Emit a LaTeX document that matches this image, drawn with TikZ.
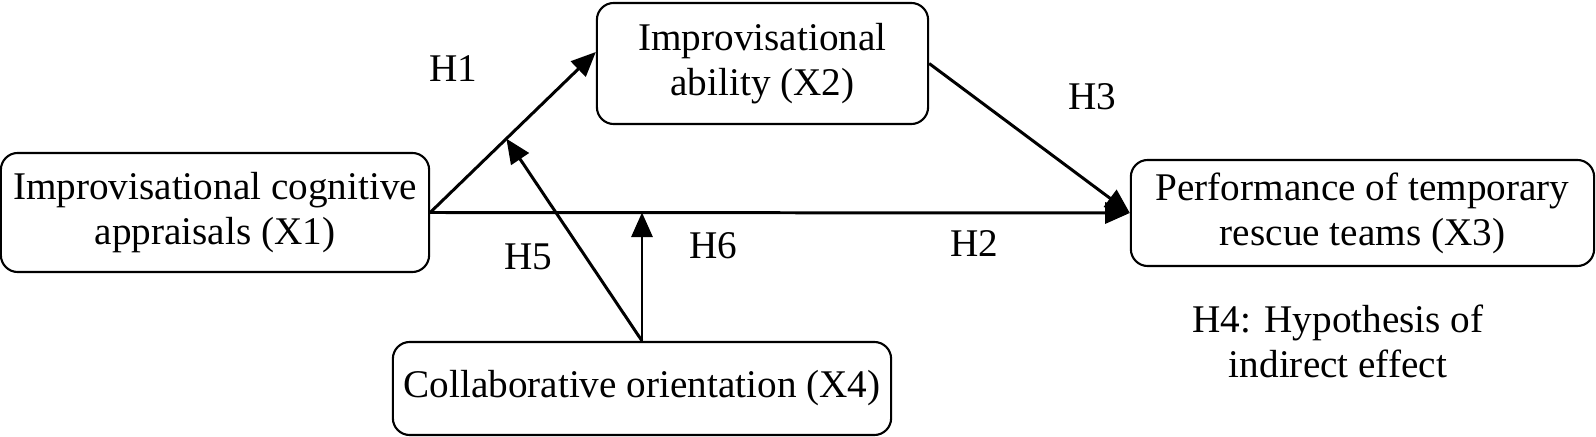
\documentclass[tikz,border=0pt]{standalone}
\usepackage{fontspec}
\setmainfont{Liberation Serif}
\usetikzlibrary{arrows.meta,calc}

\begin{document}
\begin{tikzpicture}[
  x=0.01cm, y=-0.01cm,
  block/.style={rectangle, draw, rounded corners=4.8pt, line width=0.6pt, align=center, inner sep=0pt},
  hyp/.style={inner sep=0pt, anchor=base},
  link/.style={-{Triangle[length=7pt,width=6pt]}, line width=0.85pt},
  font=\fontsize{11.15pt}{12.8pt}\selectfont
]
\useasboundingbox (0,0) rectangle (1596,437);

\node[block, minimum width=4.28cm, minimum height=1.19cm] (x1) at (215,212.5) {Improvisational cognitive\\appraisals (X1)};
\node[block, minimum width=3.31cm, minimum height=1.21cm] (x2) at (762.5,63.5) {Improvisational\\ability (X2)};
\node[block, minimum width=4.63cm, minimum height=1.06cm] (x3) at (1362.5,213) {Performance of temporary\\rescue teams (X3)};
\node[block, minimum width=4.98cm, minimum height=0.93cm] (x4) at (642,388.5) {Collaborative orientation (X4)};

\coordinate (x2in) at ([yshift=0.115cm]x2.west);
\coordinate (mod1) at ($(x1.east)!0.46!(x2in)$);
\coordinate (mod2) at (x4.north |- x1.east);

\draw[link] (x1.east) -- (x2in);
\draw[link] (x2.east) -- (x3.west);
\draw[link] (x1.east) -- (x3.west);
\draw[link] (x4.north) -- (mod1);
\draw[link] (x4.north) -- (mod2);

\node[hyp] (h1) at (453,82) {H1};
\node[hyp] (h2) at (974,257) {H2};
\node[hyp] (h3) at (1092,110) {H3};
\node[hyp] (h5) at (528,270) {H5};
\node[hyp] (h6) at (713,259) {H6};
\node[align=center, inner sep=0pt] (h4) at (1338,341) {H4: Hypothesis of\\indirect effect};
\end{tikzpicture}
\end{document}
